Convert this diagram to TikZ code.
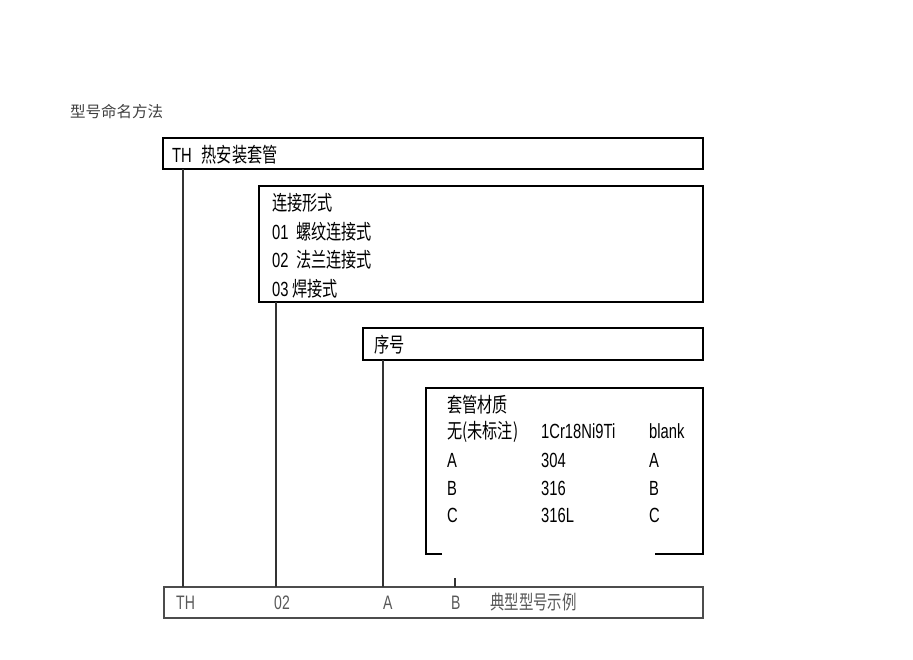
\documentclass[tikz,border=0pt]{standalone}
\usepackage{fontspec}
\setmainfont[FakeStretch=0.72]{Liberation Sans}
\newfontfamily\cjkn[FakeStretch=0.74]{Noto Sans CJK SC}
\newfontfamily\cjkplain{Noto Sans CJK SC}
\newcommand\zh[1]{{\cjkn #1}}
\begin{document}
\begin{tikzpicture}[x=1pt,y=-1pt,
  frame/.style={draw=black,line width=1.6pt},
  lowframe/.style={draw=black!70,line width=1.6pt},
  conn/.style={draw=black!80,line width=1.1pt},
  txt/.style={anchor=base west,inner sep=0pt,font=\fontsize{20.5}{20.5}\selectfont},
  graytxt/.style={anchor=base west,inner sep=0pt,text=black!65,font=\fontsize{19.5}{19.5}\selectfont}]
\useasboundingbox (0,0) rectangle (913,659);
% title
\node[anchor=base west,inner sep=0pt,text=black!75,font=\fontsize{15.5}{15.5}\selectfont\cjkplain] (title) at (70,117) {型号命名方法};
% boxes
\draw[frame] (163,138) rectangle (703,169);
\coordinate (b1l) at (183,169);
\node[txt] (t1) at (172,162) {TH\; \zh{热安装套管}};
\draw[frame] (259,186) rectangle (703,302);
\coordinate (b2l) at (276,302);
\node[txt] (t2a) at (272,210) {\zh{连接形式}};
\node[txt] (t2b) at (272,239) {01 \,\zh{螺纹连接式}};
\node[txt] (t2c) at (272,267) {02 \,\zh{法兰连接式}};
\node[txt] (t2d) at (272,296) {03\,\zh{焊接式}};
\draw[frame] (363,328) rectangle (703,360);
\coordinate (b3l) at (383,360);
\node[txt] (t3) at (374,352) {\zh{序号}};
% material box with gap in bottom edge
\draw[frame] (442,554) -- (426,554) -- (426,388) -- (703,388) -- (703,554) -- (655,554);
\node[txt] (m0) at (447,412) {\zh{套管材质}};
\node[txt] (m1a) at (447,438) {\zh{无(未标注)}};
\node[txt] (m1b) at (541,438) {1Cr18Ni9Ti};
\node[txt] (m1c) at (649,438) {blank};
\node[txt] (m2a) at (447,467) {A};
\node[txt] (m2b) at (541,467) {304};
\node[txt] (m2c) at (649,467) {A};
\node[txt] (m3a) at (447,495) {B};
\node[txt] (m3b) at (541,495) {316};
\node[txt] (m3c) at (649,495) {B};
\node[txt] (m4a) at (447,522) {C};
\node[txt] (m4b) at (541,522) {316L};
\node[txt] (m4c) at (649,522) {C};
\coordinate (b4s) at (455,578);
% bottom box
\draw[lowframe] (164,587) rectangle (703,618);
\coordinate (e1) at (183,587);
\coordinate (e2) at (276,587);
\coordinate (e3) at (383,587);
\coordinate (e4) at (455,587);
\node[graytxt] (r1) at (176,609) {TH};
\node[graytxt] (r2) at (274,609) {02};
\node[graytxt] (r3) at (383,609) {A};
\node[graytxt] (r4) at (451,609) {B};
\node[graytxt] (r5) at (490,609) {\zh{典型型号示例}};
% connectors
\draw[conn] (b1l) -- (e1);
\draw[conn] (b2l) -- (e2);
\draw[conn] (b3l) -- (e3);
\draw[conn] (b4s) -- (e4);
\end{tikzpicture}
\end{document}
